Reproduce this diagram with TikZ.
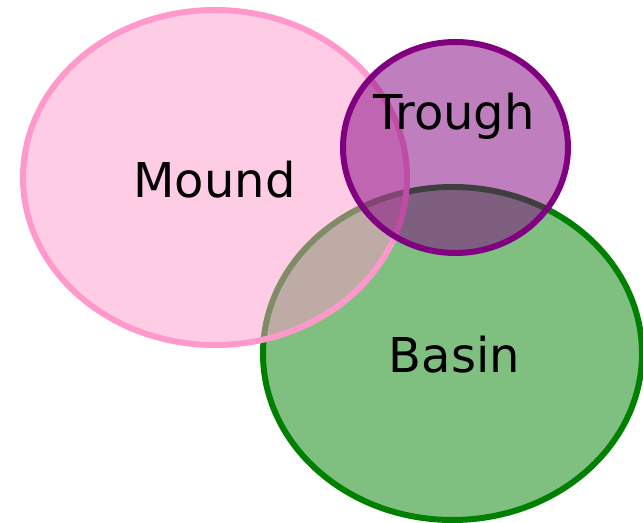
\documentclass[tikz,border=0pt]{standalone}
\usepackage{fontspec}
\setmainfont{DejaVu Sans}
\usepackage{xcolor}
\usepackage{tikz}
\definecolor{moundpink}{HTML}{FF99CC}
\definecolor{troughpurple}{HTML}{800080}
\definecolor{basingreen}{HTML}{008000}
\begin{document}
\begin{tikzpicture}[line cap=round,line join=round,x=0.5pt,y=-0.5pt,
  setline/.style={line width=3pt,fill opacity=0.5},
  setlabel/.style={anchor=base,font=\fontsize{24}{28}\selectfont,text=black}]
\useasboundingbox (0,0) rectangle (643,523);
\draw [setline,draw=basingreen,fill=basingreen] (452.5,353.5) ellipse (189.5 and 166.5);
\draw [setline,draw=moundpink,fill=moundpink] (215,177.5) ellipse (192 and 167.5);
\draw [setline,draw=troughpurple,fill=troughpurple] (455.5,147.5) ellipse (112.5 and 105.5);
\node [setlabel] (mound) at (214.5,198) {Mound};
\node [setlabel] (trough) at (454,130) {Trough};
\node [setlabel] (basin) at (454.5,373) {Basin};
\end{tikzpicture}
\end{document}
